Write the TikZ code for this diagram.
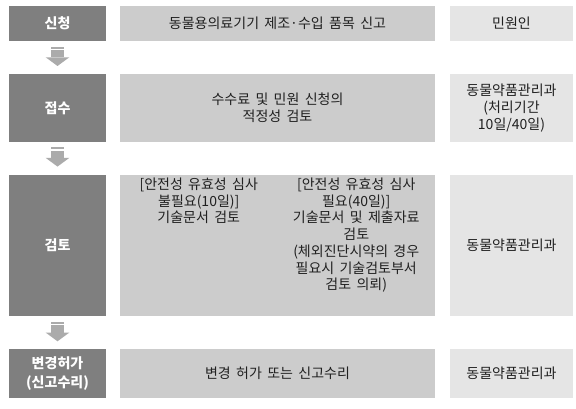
\documentclass[tikz,border=0pt]{standalone}
\usepackage{fontspec}
\setmainfont{Noto Sans CJK KR}[WordSpace=1.7]
\definecolor{darkbox}{HTML}{7F7F7F}
\definecolor{midbox}{HTML}{CCCCCC}
\definecolor{lightbox}{HTML}{E5E5E5}
\definecolor{txt}{HTML}{202020}
\definecolor{arrowgray}{HTML}{ABABAB}
\begin{document}
\begin{tikzpicture}[x=1pt,y=-1pt,
  box/.style={inner sep=0pt, outer sep=0pt, align=center, text=txt,
    font=\fontsize{14}{16.8}\selectfont},
  stagebox/.style={box, fill=darkbox, text=white, minimum width=97pt,
    font=\fontsize{14}{19}\selectfont\bfseries},
  taskbox/.style={box, fill=midbox, minimum width=315pt},
  ownerbox/.style={box, fill=lightbox, minimum width=123pt},
  coltext/.style={inner sep=0pt, outer sep=0pt, align=center, text=txt,
    anchor=north, font=\fontsize{14}{16.7}\selectfont},
  downarrow/.pic={
    \fill[arrowgray] (-6.8,0) rectangle (6.8,2);
    \fill[arrowgray] (-6.8,3.3) rectangle (6.8,10.6);
    \fill[arrowgray] (-11.8,10.6) -- (11.8,10.6) -- (0,19.3) -- cycle;
  }
]
\useasboundingbox (0,0) rectangle (576,409);
% row 1
\node[stagebox, minimum height=35pt] (s1) at (57.5,23.5) {신청};
\node[taskbox, minimum height=35pt] (t1) at (277.5,23.5) {동물용의료기기 제조·수입 품목 신고};
\node[ownerbox, minimum height=35pt] (o1) at (511.5,23.5) {민원인};
% row 2
\node[stagebox, minimum height=68pt] (s2) at (57.5,108) {접수};
\node[taskbox, minimum height=68pt] (t2) at (277.5,108) {수수료 및 민원 신청의\\적정성 검토};
\node[ownerbox, minimum height=68pt] (o2) at (511.5,108) {동물약품관리과\\(처리기간\\10일/40일)};
% row 3
\node[stagebox, minimum height=141pt] (s3) at (57.5,245.5) {검토};
\node[taskbox, minimum height=141pt] (t3) at (277.5,245.5) {};
\node[coltext] (t3a) at (198.75,178) {[안전성 유효성 심사\\불필요(10일)]\\기술문서 검토};
\node[coltext] (t3b) at (356.25,178) {[안전성 유효성 심사\\필요(40일)]\\기술문서 및 제출자료\\검토\\(체외진단시약의 경우\\필요시 기술검토부서\\검토 의뢰)};
\node[ownerbox, minimum height=141pt] (o3) at (511.5,245.5) {동물약품관리과};
% row 4
\node[stagebox, minimum height=49pt] (s4) at (57.5,373.5) {변경허가\\(신고수리)};
\node[taskbox, minimum height=49pt] (t4) at (277.5,373.5) {변경 허가 또는 신고수리};
\node[ownerbox, minimum height=49pt] (o4) at (511.5,373.5) {동물약품관리과};
% arrows between stages
\coordinate (a1) at ([yshift=-5.7pt]s1.south);
\coordinate (a2) at ([yshift=-5.3pt]s2.south);
\coordinate (a3) at ([yshift=-6pt]s3.south);
\pic at (a1) {downarrow};
\pic at (a2) {downarrow};
\pic at (a3) {downarrow};
\end{tikzpicture}
\end{document}
